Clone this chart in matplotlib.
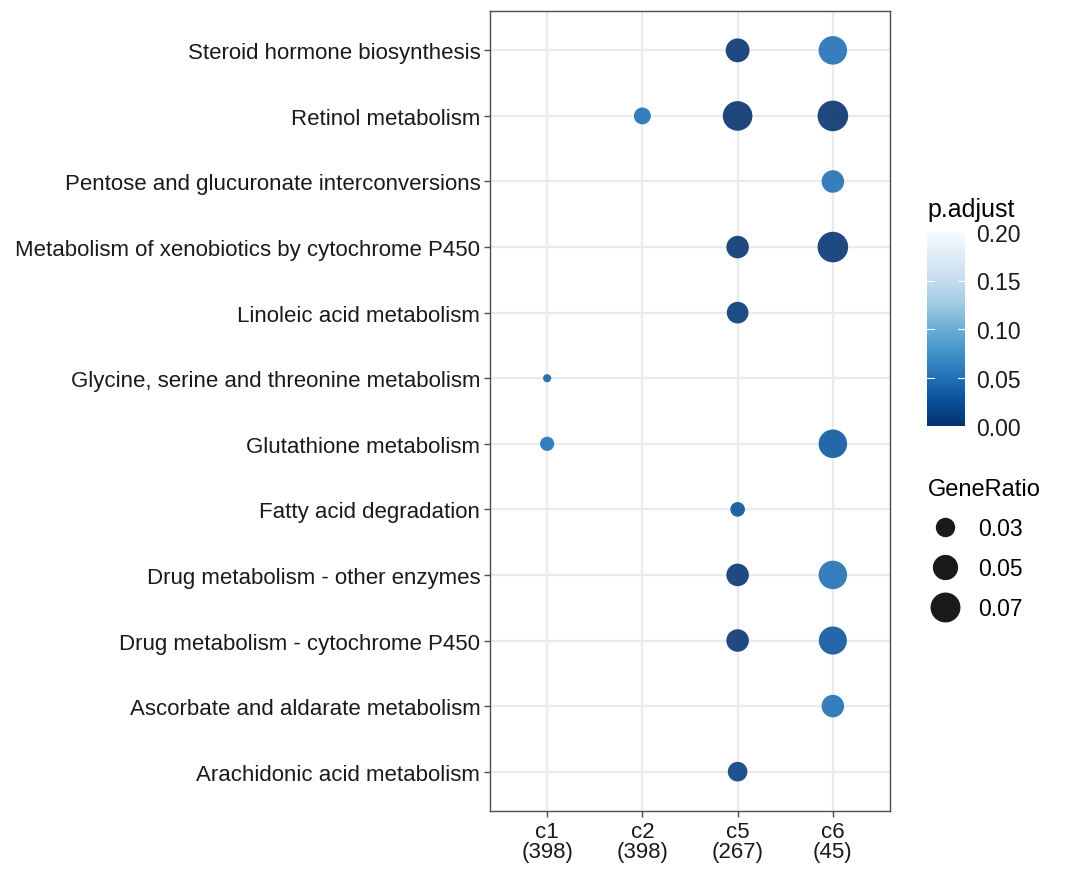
import numpy as np
import matplotlib
matplotlib.use('Agg')
import matplotlib.pyplot as plt
from matplotlib.lines import Line2D

plt.rcParams['font.family'] = ['Liberation Sans', 'DejaVu Sans']

# clusters on x axis
clusters = ['c1', 'c2', 'c5', 'c6']
cluster_sizes = [398, 398, 267, 45]

# pathways, top to bottom
pathways = ['Steroid hormone biosynthesis',
            'Retinol metabolism',
            'Pentose and glucuronate interconversions',
            'Metabolism of xenobiotics by cytochrome P450',
            'Linoleic acid metabolism',
            'Glycine, serine and threonine metabolism',
            'Glutathione metabolism',
            'Fatty acid degradation',
            'Drug metabolism - other enzymes',
            'Drug metabolism - cytochrome P450',
            'Ascorbate and aldarate metabolism',
            'Arachidonic acid metabolism']

# one entry per dot
pt_cluster = ['c5', 'c6', 'c2', 'c5', 'c6', 'c6', 'c5', 'c6', 'c5', 'c1',
              'c1', 'c6', 'c5', 'c5', 'c6', 'c5', 'c6', 'c6', 'c5']
pt_pathway = [0, 0, 1, 1, 1, 2, 3, 3, 4, 5, 6, 6, 7, 8, 8, 9, 9, 10, 11]
gene_ratio = [0.050, 0.070, 0.027, 0.075, 0.080, 0.045, 0.045, 0.080, 0.042, 0.009,
              0.020, 0.070, 0.021, 0.045, 0.070, 0.045, 0.068, 0.045, 0.035]
p_adjust = [0.004, 0.050, 0.050, 0.002, 0.003, 0.050, 0.005, 0.004, 0.008, 0.040,
            0.050, 0.032, 0.028, 0.005, 0.050, 0.005, 0.030, 0.050, 0.012]

legend_ratios = [0.03, 0.05, 0.07]


def dot_size(v):
    # area grows linearly with gene ratio (pixel^2 -> points^2 at 100 dpi)
    d2 = 324 + 12250 * (np.asarray(v) - 0.03)
    return d2 / 1.929


n = len(pathways)
xs = [clusters.index(c) + 1 for c in pt_cluster]
ys = [n - i for i in pt_pathway]

fig = plt.figure(figsize=(10.8, 8.79), dpi=100)
ax = fig.add_axes([490 / 1080, 1 - 812 / 879, 400 / 1080, 800 / 879])

cmap = plt.get_cmap('Blues_r')
sc = ax.scatter(xs, ys, s=dot_size(gene_ratio), c=p_adjust, cmap=cmap,
                vmin=0, vmax=0.2, edgecolors='none', alpha=0.9, zorder=3)

ax.set_xlim(0.4, 4.6)
ax.set_ylim(0.4, n + 0.6)
ax.set_xticks(range(1, 5))
ax.set_xticklabels(['%s\n(%d)' % (c, k) for c, k in zip(clusters, cluster_sizes)],
                   fontsize=16, linespacing=0.95)
ax.set_yticks(range(n, 0, -1))
ax.set_yticklabels(pathways, fontsize=16)
ax.grid(True, color='#ebebeb', linewidth=1.6, zorder=0)
ax.set_axisbelow(True)
for sp in ax.spines.values():
    sp.set_color('#4d4d4d')
    sp.set_linewidth(1.0)
ax.tick_params(length=4, width=1.0, color='#4d4d4d', labelcolor='#1a1a1a', pad=3)

# colorbar
cax = fig.add_axes([927 / 1080, 1 - 427 / 879, 38 / 1080, 194 / 879])
cb = fig.colorbar(sc, cax=cax)
cb.solids.set_alpha(1)
cb.outline.set_visible(False)
cb.set_ticks([0, 0.05, 0.10, 0.15, 0.20])
cb.set_ticklabels(['0.00', '0.05', '0.10', '0.15', '0.20'])
cax.tick_params(length=0, labelsize=16.5, pad=8, labelcolor='#1a1a1a')
for t in [0.05, 0.10, 0.15]:
    cax.plot([0, 0.18], [t, t], color='white', lw=0.8, transform=cax.get_yaxis_transform())
    cax.plot([0.82, 1], [t, t], color='white', lw=0.8, transform=cax.get_yaxis_transform())
fig.text(927 / 1080, 1 - 210 / 879, 'p.adjust', fontsize=18, va='center', ha='left')

# size legend
handles = [Line2D([], [], marker='o', linestyle='none', color='#1a1a1a',
                  markersize=np.sqrt(dot_size(r))) for r in legend_ratios]
leg = fig.legend(handles, ['%.2f' % r for r in legend_ratios], title='GeneRatio',
                 loc='upper left', bbox_to_anchor=(907 / 1080, 1 - 458 / 879),
                 frameon=False, fontsize=16.5, title_fontsize=17,
                 labelspacing=0.75, handlelength=1.5, handletextpad=0.7,
                 alignment='left')

fig.savefig('out.png', dpi=100)
